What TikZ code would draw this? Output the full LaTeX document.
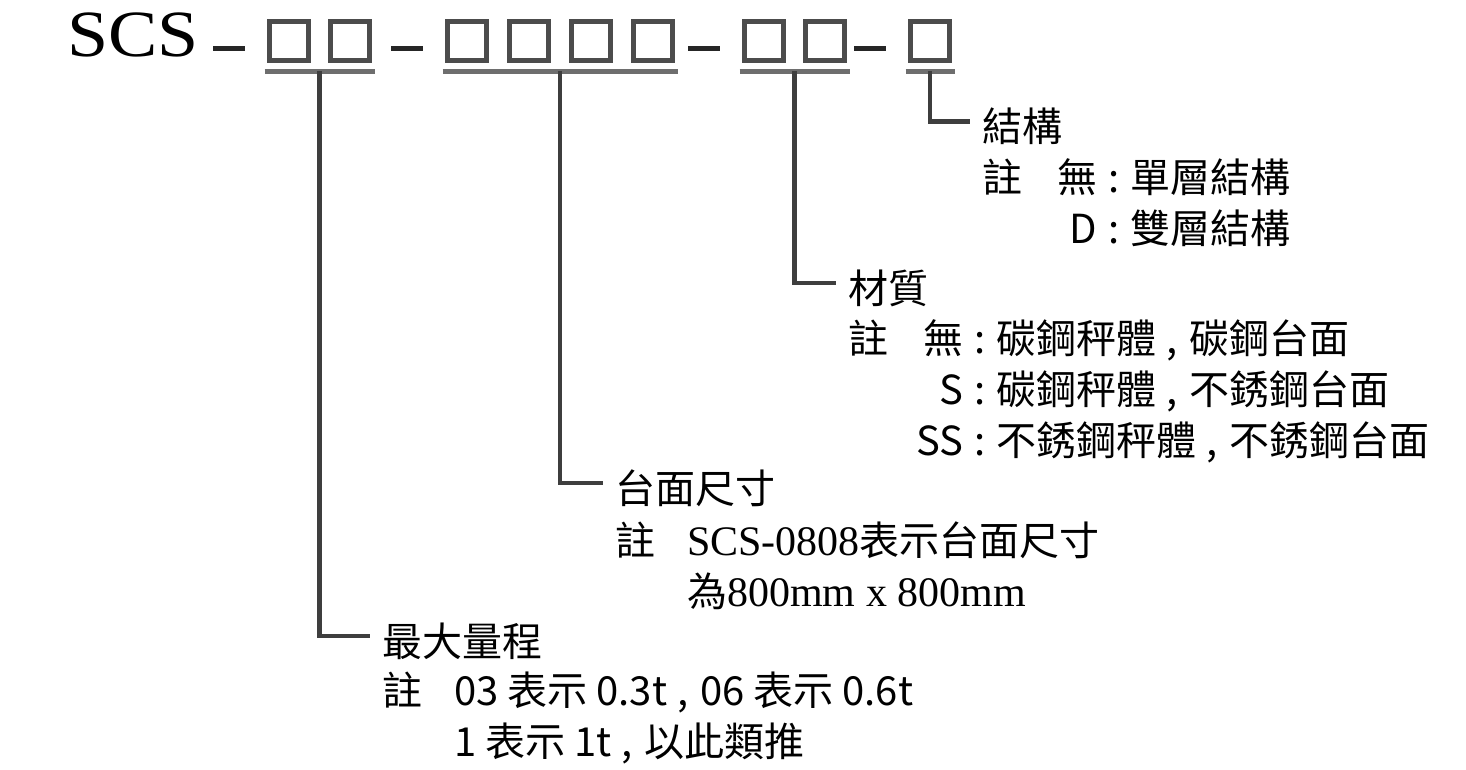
\documentclass[tikz,border=0pt]{standalone}
\usepackage{fontspec}
\setmainfont{Noto Sans CJK TC}
\newfontfamily\romanfont{Liberation Serif}
\newfontfamily\codefont[FakeStretch=1.12]{Liberation Serif}
\usepackage{xcolor}
\usepackage{tikz}
\usetikzlibrary{calc}
\usetikzlibrary{positioning}

\definecolor{leadgray}{HTML}{3E3E3E}
\definecolor{boxgray}{HTML}{4C4C4C}
\definecolor{bargray}{HTML}{6E6E6E}

\newcommand{\serifpart}[1]{{\romanfont\fontsize{42}{51}\selectfont #1}}
\newcommand{\notehead}[1]{\makebox[72pt][l]{#1}}
\newcommand{\notekey}[2]{\makebox[75pt][l]{#1}\makebox[40pt][r]{#2}\hspace{11pt}:\hspace{11pt}}
\newcommand{\commasep}{\hspace{10pt},\hspace{12pt}}

\begin{document}
\begin{tikzpicture}[x=1pt, y=-1pt,
    digitbox/.style={draw=boxgray, line width=5pt, minimum size=39pt, inner sep=0pt},
    dashbar/.style={draw=black!85, line width=5pt},
    groupline/.style={draw=bargray, line width=4.5pt},
    leader/.style={draw=leadgray, line width=4.5pt, shorten >=12pt},
    heading/.style={inner sep=0pt, anchor=base west, font=\fontsize{40}{51}\selectfont},
    notetext/.style={inner sep=0pt, anchor=base west, font=\fontsize{40}{51}\selectfont}]

    \useasboundingbox (0, 0) rectangle (1466, 770);

    % model code
    \node [anchor=base west, inner sep=0pt, font=\codefont\fontsize{66}{66}\selectfont]
      (code) at (67, 57) {SCS};
    \foreach \name/\x in {b11/289, b12/350, b21/467, b22/529, b23/591, b24/653,
                          b31/764, b32/825, b41/930} {
      \node [digitbox] (\name) at (\x, 41.5) {};
    }
    \foreach \boxafter in {b11, b21, b31, b41} {
      \draw [dashbar] ([xshift=-76pt, yshift=-7pt]\boxafter.center)
      -- ([xshift=-44pt, yshift=-7pt]\boxafter.center);
    }
    % groups
    \foreach \fromb/\tob/\joint in {b11/b12/u1, b21/b24/u2, b31/b32/u3, b41/b41/u4} {
      \draw [groupline] ($(\fromb.south west) + (-2.5, 8)$)
      -- ($(\tob.south east) + (2.5, 8)$);
      \coordinate (\joint) at ($(\fromb.south)!0.5!(\tob.south) + (0, 8)$);
    }

    % structure
    \node [heading] (struct) at (982, 142) {結構};
    \node [notetext] (structnote) at (982, 193) {\begin{tabular}[t]{@{}l@{}}
        \notekey{註}{無}單層結構\\
        \notekey{}{D}雙層結構
      \end{tabular}};
    \draw [leader] (u4) |- ([yshift=5pt]struct.west);

    % material
    \node [heading] (material) at (848, 303) {材質};
    \node [notetext] (materialnote) at (848, 353) {\begin{tabular}[t]{@{}l@{}}
        \notekey{註}{無}碳鋼秤體\commasep 碳鋼台面\\
        \notekey{}{S}碳鋼秤體\commasep 不銹鋼台面\\
        \notekey{}{SS}不銹鋼秤體\commasep 不銹鋼台面
      \end{tabular}};
    \draw [leader] (u3) |- ([yshift=5pt]material.west);

    % platform size
    \node [heading] (platform) at (615, 503) {台面尺寸};
    \node [notetext] (platformnote) at (615, 555) {\begin{tabular}[t]{@{}l@{}}
        \notehead{註}\serifpart{SCS-0808}表示台面尺寸\\
        \notehead{}為\serifpart{800mm x 800mm}
      \end{tabular}};
    \draw [leader] (u2) |- ([yshift=5pt]platform.west);

    % capacity
    \node [heading] (capacity) at (382, 656) {最大量程};
    \node [notetext] (capacitynote) at (382, 705) {\begin{tabular}[t]{@{}l@{}}
        \notehead{註}03 表示 0.3t\commasep 06 表示 0.6t\\
        \notehead{}1 表示 1t\commasep 以此類推
      \end{tabular}};
    \draw [leader] (u1) |- ([yshift=5pt]capacity.west);

  \end{tikzpicture}
\end{document}
